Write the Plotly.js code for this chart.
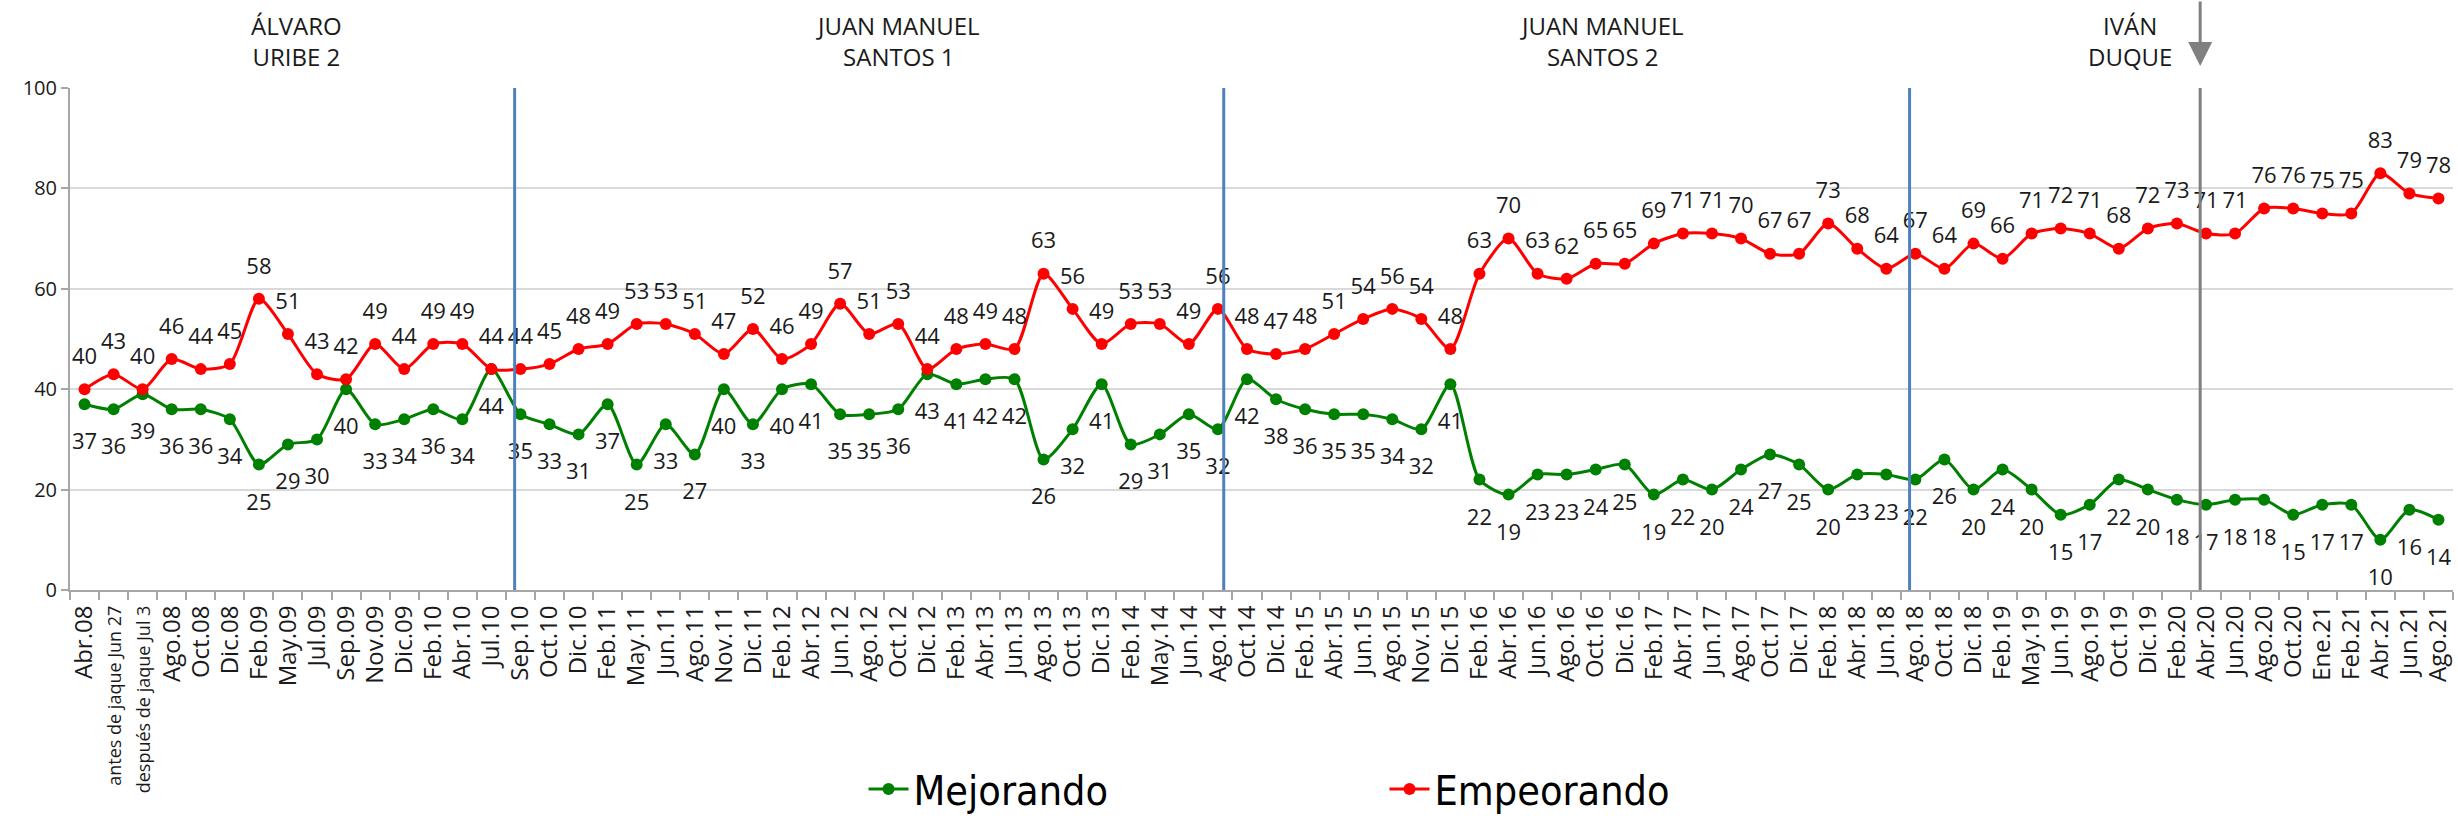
<!DOCTYPE html>
<html>
<head>
<meta charset="utf-8">
<script src="https://cdn.plot.ly/plotly-3.0.1.min.js"></script>
<style>
    html, body { margin: 0; padding: 0; background: #ffffff; }
    #chart { width: 2458px; height: 822px; }
</style>
</head>
<body>
<div id="chart"></div>
<script>
// ---------- Data ---------- //
const categories = [
    'Abr.08', 'antes de jaque Jun 27', 'después de jaque Jul 3', 'Ago.08', 'Oct.08', 'Dic.08',
    'Feb.09', 'May.09', 'Jul.09', 'Sep.09', 'Nov.09', 'Dic.09', 'Feb.10', 'Abr.10', 'Jul.10',
    'Sep.10', 'Oct.10', 'Dic.10', 'Feb.11', 'May.11', 'Jun.11', 'Ago.11', 'Nov.11', 'Dic.11',
    'Feb.12', 'Abr.12', 'Jun.12', 'Ago.12', 'Oct.12', 'Dic.12', 'Feb.13', 'Abr.13', 'Jun.13',
    'Ago.13', 'Oct.13', 'Dic.13', 'Feb.14', 'May.14', 'Jun.14', 'Ago.14', 'Oct.14', 'Dic.14',
    'Feb.15', 'Abr.15', 'Jun.15', 'Ago.15', 'Nov.15', 'Dic.15', 'Feb.16', 'Abr.16', 'Jun.16',
    'Ago.16', 'Oct.16', 'Dic.16', 'Feb.17', 'Abr.17', 'Jun.17', 'Ago.17', 'Oct.17', 'Dic.17',
    'Feb.18', 'Abr.18', 'Jun.18', 'Ago.18', 'Oct.18', 'Dic.18', 'Feb.19', 'May.19', 'Jun.19',
    'Ago.19', 'Oct.19', 'Dic.19', 'Feb.20', 'Abr.20', 'Jun.20', 'Ago.20', 'Oct.20', 'Ene.21',
    'Feb.21', 'Abr.21', 'Jun.21', 'Ago.21'
];

const mejorando = [
    37, 36, 39, 36, 36, 34, 25, 29, 30, 40, 33, 34, 36, 34, 44,
    35, 33, 31, 37, 25, 33, 27, 40, 33, 40, 41, 35, 35, 36, 43,
    41, 42, 42, 26, 32, 41, 29, 31, 35, 32,
    42, 38, 36, 35, 35, 34, 32, 41, 22, 19,
    23, 23, 24, 25, 19, 22, 20, 24, 27, 25,
    20, 23, 23, 22, 26, 20, 24, 20, 15, 17,
    22, 20, 18, 17, 18, 18, 15, 17, 17, 10, 16, 14
];

const empeorando = [
    40, 43, 40, 46, 44, 45, 58, 51, 43, 42, 49, 44, 49, 49, 44,
    44, 45, 48, 49, 53, 53, 51, 47, 52, 46, 49, 57, 51, 53, 44,
    48, 49, 48, 63, 56, 49, 53, 53, 49, 56,
    48, 47, 48, 51, 54, 56, 54, 48, 63, 70,
    63, 62, 65, 65, 69, 71, 71, 70, 67, 67,
    73, 68, 64, 67, 64, 69, 66, 71, 72, 71,
    68, 72, 73, 71, 71, 76, 76, 75, 75, 83, 79, 78
];

// period names and where they sit (category position)
const periodNames = ['ÁLVARO<br>URIBE 2', 'JUAN MANUEL<br>SANTOS 1', 'JUAN MANUEL<br>SANTOS 2', 'IVÁN<br>DUQUE'];
const periodCenters = [7.3, 28.0, 52.2, 70.4];
const dividers = [14.8, 39.2, 62.8];   // blue separators
const duqueMark = 72.8;                // grey separator with arrow

// ---------- Traces ---------- //
const baseFont = 'Open Sans, DejaVu Sans, sans-serif';

// long labels get a smaller font so they fit under the axis
const tickText = categories.map(c =>
    c.length > 10 ? `<span style="font-size:18px">${c}</span>` : c);

function lineTrace(name, values, color) {
    return {
        x: categories,
        y: values,
        name: name,
        type: 'scatter',
        mode: 'lines+markers',
        line: { color: color, width: 3, shape: 'spline', smoothing: 0.7 },
        marker: { color: color, size: 12 },
        cliponaxis: false,
    };
}

// value labels: invisible wider marker pushes the text a bit further off the point
function labelTrace(values, position, spacer) {
    return {
        x: categories,
        y: values,
        type: 'scatter',
        mode: 'markers+text',
        text: values.map(String),
        textposition: position,
        textfont: { family: baseFont, size: 22, color: '#1a1a1a' },
        marker: { size: spacer, opacity: 0 },
        showlegend: false,
        hoverinfo: 'skip',
        cliponaxis: false,
    };
}

const traces = [
    lineTrace('Mejorando', mejorando, '#008000'),
    lineTrace('Empeorando', empeorando, '#ff0000'),
    labelTrace(mejorando, 'bottom center', 44),
    labelTrace(empeorando, 'top center', 30),
];

// ---------- Shapes & annotations ---------- //
const shapes = dividers.map(d => ({
    type: 'line', xref: 'x', yref: 'y',
    x0: d, x1: d, y0: 0, y1: 100,
    line: { color: '#4f81bd', width: 3 },
}));
shapes.push({
    type: 'line', xref: 'x', yref: 'y',
    x0: duqueMark, x1: duqueMark, y0: 0, y1: 100,
    line: { color: '#808080', width: 3 },
});

const annotations = periodNames.map((name, i) => ({
    xref: 'x', yref: 'paper',
    x: periodCenters[i], y: 1.093,
    text: name,
    showarrow: false,
    xanchor: 'center', yanchor: 'middle',
    align: 'center',
    font: { family: baseFont, size: 24, color: '#1a1a1a' },
}));
annotations.push({
    xref: 'x', yref: 'paper',
    x: duqueMark, y: 1.044,
    text: '',
    showarrow: true,
    ax: 0, ay: -70,
    arrowhead: 2, arrowsize: 1.6, arrowwidth: 3,
    arrowcolor: '#808080',
});

// ---------- Layout ---------- //
const layout = {
    width: 2458,
    height: 822,
    margin: { l: 70, r: 5, t: 88, b: 232, autoexpand: false },
    paper_bgcolor: '#ffffff',
    plot_bgcolor: '#ffffff',
    font: { family: baseFont, color: '#1a1a1a' },
    showlegend: true,
    legend: {
        orientation: 'h',
        x: 0.333, xanchor: 'left',
        y: -0.397, yanchor: 'middle',
        entrywidth: 466, entrywidthmode: 'pixels',
        itemwidth: 40,
        font: { family: 'DejaVu Sans Condensed, Roboto Condensed, Roboto, sans-serif', size: 41, color: '#000000' },
    },
    xaxis: {
        type: 'category',
        range: [-0.5, categories.length - 0.5],
        tickmode: 'array',
        tickvals: categories,
        ticktext: tickText,
        tickson: 'boundaries',
        ticks: 'outside', ticklen: 8, tickcolor: '#a6a6a6', tickwidth: 2,
        tickangle: -90,
        ticklabelstandoff: 4,
        tickfont: { family: baseFont, size: 24, color: '#1a1a1a' },
        showline: true, linecolor: '#a6a6a6', linewidth: 2,
        showgrid: false,
        automargin: false,
        fixedrange: true,
    },
    yaxis: {
        range: [0, 100],
        dtick: 20,
        ticks: 'outside', ticklen: 7, tickcolor: '#a6a6a6', tickwidth: 2,
        tickfont: { family: baseFont, size: 20, color: '#1a1a1a' },
        showline: true, linecolor: '#a6a6a6', linewidth: 2,
        gridcolor: '#d9d9d9', gridwidth: 2,
        zeroline: false,
        automargin: false,
        fixedrange: true,
    },
    shapes: shapes,
    annotations: annotations,
};

Plotly.newPlot('chart', traces, layout, { displayModeBar: false, responsive: false });
</script>
</body>
</html>
